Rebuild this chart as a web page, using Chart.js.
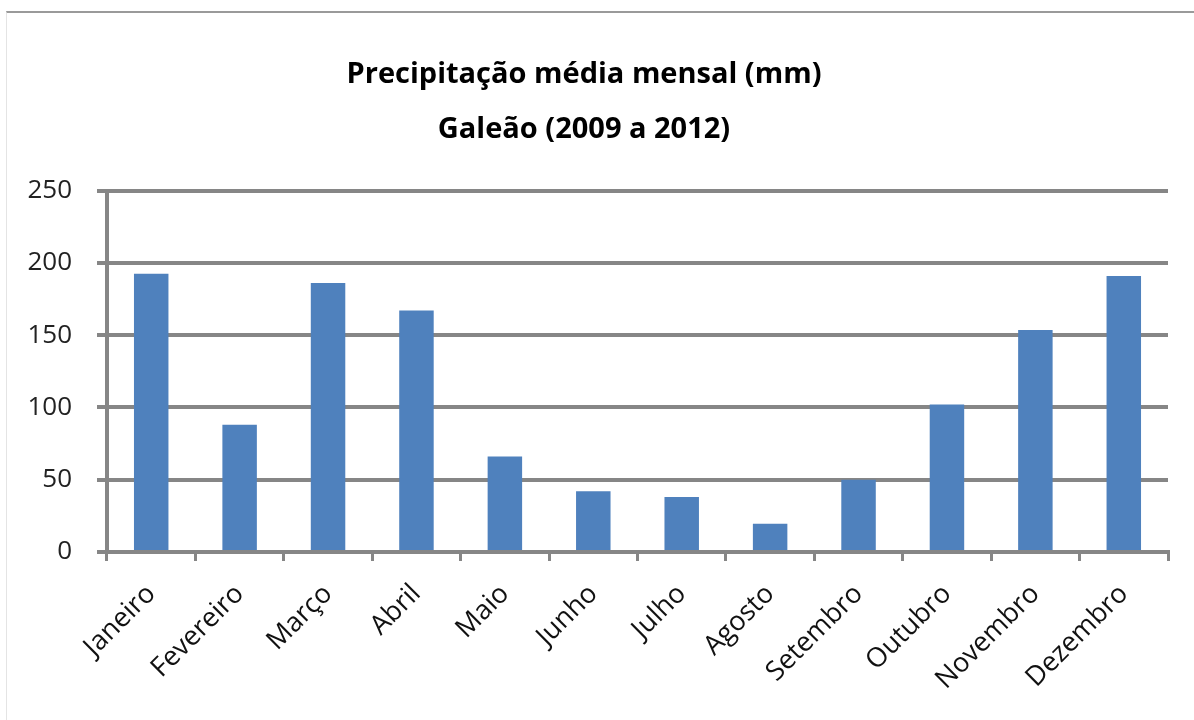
<!DOCTYPE html>
<html>
<head>
<meta charset="utf-8">
<script src="https://cdn.jsdelivr.net/npm/chart.js@4"></script>
<style>
  body { margin: 0; background: #fff; }
  #frame {
    position: absolute; left: 6px; top: 11px; width: 1188px; height: 709px;
    border-top: 2px solid #9a9a9a; border-left: 1px solid #e4e4e4;
  }
  #wrap { position: absolute; left: 0; top: 0; width: 1194px; height: 720px; }
</style>
</head>
<body>
<div id="frame"></div>
<div id="wrap"><canvas id="rainChart" width="1194" height="720"></canvas></div>
<script>
var months = ['Janeiro', 'Fevereiro', 'Março', 'Abril', 'Maio', 'Junho',
              'Julho', 'Agosto', 'Setembro', 'Outubro', 'Novembro', 'Dezembro'];
var rainfall = [192.5, 88, 186, 167, 66, 42, 38, 19.5, 50, 102, 153.5, 191];
var yTicks = [0, 50, 100, 150, 200, 250];

var gray = '#868686';

var ctx = document.getElementById('rainChart').getContext('2d');
var chart = new Chart(ctx, {
    type: 'bar',
    data: {
        labels: months,
        datasets: [{
            label: 'Precipitação (mm)',
            data: rainfall,
            backgroundColor: '#4f81bd',
            borderWidth: 0,
            categoryPercentage: 1,
            barPercentage: 0.39
        }]
    },
    options: {
        responsive: false,
        animation: false,
        layout: { padding: { left: 0, right: 26, top: 0, bottom: 0 } },
        plugins: {
            legend: { display: false },
            tooltip: { enabled: false },
            title: {
                display: true,
                text: 'Precipitação média mensal (mm)',
                color: '#000',
                font: { family: 'Open Sans', size: 29, weight: 'bold' },
                padding: { top: 57, bottom: 21 }
            },
            subtitle: {
                display: true,
                text: 'Galeão (2009 a 2012)',
                color: '#000',
                font: { family: 'Open Sans', size: 29, weight: 'bold' },
                padding: { top: 0, bottom: 43 }
            }
        },
        scales: {
            x: {
                afterFit: function (scale) { scale.height = 168; },
                grid: {
                    display: true,
                    offset: true,
                    drawOnChartArea: false,
                    drawTicks: true,
                    tickLength: 9,
                    lineWidth: 3,
                    color: gray
                },
                border: { display: true, color: gray, width: 4 },
                ticks: {
                    minRotation: 45,
                    maxRotation: 45,
                    padding: 17,
                    color: '#111',
                    font: { family: 'Open Sans', size: 27 }
                }
            },
            y: {
                min: 0,
                max: 250,
                afterFit: function (scale) { scale.width = 107; },
                afterBuildTicks: function (scale) {
                    scale.ticks = yTicks.map(function (v) { return { value: v }; });
                },
                grid: {
                    color: gray,
                    lineWidth: 4,
                    tickLength: 10,
                    drawTicks: true
                },
                border: { display: true, color: gray, width: 4 },
                ticks: {
                    padding: 25,
                    color: '#222',
                    font: { family: 'Open Sans', size: 26 }
                }
            }
        }
    }
});
</script>
</body>
</html>
